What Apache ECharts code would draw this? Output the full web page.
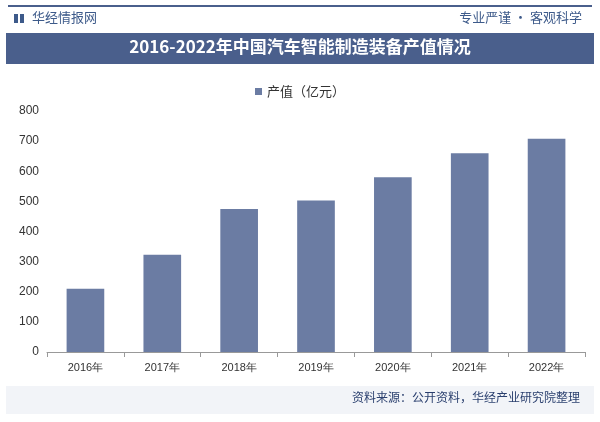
<!DOCTYPE html>
<html><head><meta charset="utf-8">
<script src="https://cdn.jsdelivr.net/npm/echarts@6/dist/echarts.min.js"></script>
<style>html,body{margin:0;padding:0;background:#fff}#c{width:600px;height:422px}</style>
</head><body><div id="c"></div>
<script>
const years = ['2016年', '2017年', '2018年', '2019年', '2020年', '2021年', '2022年'];
const outputValue = [210, 323, 475, 503, 580, 660, 708];
const seriesName = '产值（亿元）';

const chart = echarts.init(document.getElementById('c'));
chart.setOption({
  animation: false,
  graphic: [
    { type: 'rect', shape: { x: 8, y: 5, width: 584, height: 2 }, style: { fill: '#4a5f8c' } },
    { type: 'rect', shape: { x: 14, y: 14, width: 4, height: 9 }, style: { fill: '#3d5a8a' } },
    { type: 'rect', shape: { x: 20, y: 14, width: 4, height: 9 }, style: { fill: '#3d5a8a' } },
    { type: 'text', left: 32, top: 11, style: { text: '华经情报网', fill: '#3d5a8a', font: '13px "Noto Sans CJK SC"' } },
    { type: 'text', right: 18, top: 11, style: { text: '专业严谨 • 客观科学', fill: '#3d5a8a', font: '13px "Noto Sans CJK SC"' } },
    { type: 'rect', shape: { x: 6, y: 33, width: 588, height: 31 }, style: { fill: '#4a5f8c' } },
    { type: 'text', left: 'center', top: 38, style: { text: '2016-2022年中国汽车智能制造装备产值情况', fill: '#fff', font: 'bold 17px "Noto Sans CJK SC"' } },
    { type: 'rect', shape: { x: 6, y: 386, width: 588, height: 28 }, style: { fill: '#f2f4f8' } },
    { type: 'text', right: 20, top: 391, style: { text: '资料来源：公开资料，华经产业研究院整理', fill: '#2a3f6e', font: '12px "Noto Sans CJK SC"' } }
  ],
  legend: {
    top: 80, left: 'center', itemWidth: 7, itemHeight: 7, icon: 'rect',
    textStyle: { fontSize: 13, color: '#333', fontFamily: 'Noto Sans CJK SC' }
  },
  grid: { left: 47, right: 15, top: 111, bottom: 70 },
  xAxis: {
    type: 'category', data: years,
    axisLine: { lineStyle: { color: '#999' } },
    axisTick: { show: true, lineStyle: { color: '#999' } },
    axisLabel: { color: '#333', fontSize: 11, margin: 10 }
  },
  yAxis: {
    type: 'value', min: 0, max: 800, interval: 100,
    axisLine: { show: false }, axisTick: { show: false },
    splitLine: { show: false },
    axisLabel: { color: '#333', fontSize: 12 }
  },
  series: [{
    name: seriesName, type: 'bar', data: outputValue,
    barWidth: '49%', itemStyle: { color: '#6b7ca3' }
  }]
});
</script></body></html>
